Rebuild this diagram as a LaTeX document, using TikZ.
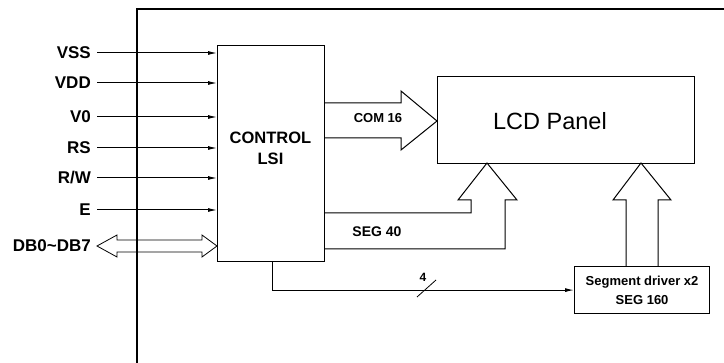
\documentclass[tikz,border=0pt]{standalone}
\usepackage{fontspec}
\setmainfont{Liberation Sans}
\usetikzlibrary{arrows.meta,calc}
\begin{document}
\begin{tikzpicture}[x=1pt,y=-1pt,
  box/.style={draw,line width=1.2pt,inner sep=0pt,anchor=north west},
  pin/.style={line width=1pt,-{Latex[length=9pt,width=4pt]}},
  lbl/.style={font=\bfseries\fontsize{17}{17}\selectfont,anchor=east,inner sep=0pt},
  fat/.style={line width=1pt,line join=miter},
  txt/.style={inner sep=0pt,font=\bfseries\fontsize{13}{13}\selectfont}
  ]
\useasboundingbox (0,0) rectangle (724,363);
% outer frame
\draw[line width=1.2pt] (137,363) -- (137,9) -- (724,9);
% blocks
\node[box,minimum width=107pt,minimum height=216pt] (ctrl) at (217,45) {};
\node[inner sep=0pt,align=center,font=\bfseries\fontsize{16.5}{21}\selectfont] (ctrltxt) at (270.5,148) {CONTROL\\LSI};
\node[box,minimum width=257pt,minimum height=87pt] (lcd) at (437,76) {};
\node[inner sep=0pt,font=\fontsize{23.5}{23.5}\selectfont] (lcdtxt) at (550,121) {LCD Panel};
\node[box,minimum width=135pt,minimum height=47pt,align=center,font=\bfseries\fontsize{13}{19}\selectfont] (seg) at (574,266) {Segment driver x2\\SEG 160};
% inputs
\foreach \t/\y/\n in {VSS/53/vss, VDD/83/vdd, V0/117/vz, RS/148/rs, {R/W}/178/rw, E/210/e}{
  \node[lbl] (\n) at (91,\y) {\t};
  \draw[pin] ([xshift=6pt]\n.east) -- (\n.east -| ctrl.west);
}
\node[lbl] (db) at (91,246) {DB0\textasciitilde DB7};
\draw[line width=0.8pt,line join=miter] (97,246) -- (117,235) -- (117,240) -- (202,240) -- (202,235) -- (217,246) -- (202,257) -- (202,252) -- (117,252) -- (117,257) -- cycle;
% COM arrow
\draw[fat] (324,103) -- (401,103) -- (401,91) -- (lcd.west |- 0,121) -- (401,150) -- (401,138) -- (324,138);
\node[txt] (com) at (378,118) {COM 16};
% SEG 40 arrow
\draw[fat] (324,213) -- (471,213) -- (471,200) -- (458,200) -- (487,163) -- (517,200) -- (505,200) -- (505,249) -- (324,249);
\node[txt,font=\bfseries\fontsize{14}{14}\selectfont] (seg40) at (377,232) {SEG 40};
% segment driver arrow
\draw[fat] (626,266) -- (626,200) -- (613,200) -- (641,163) -- (671,200) -- (658,200) -- (658,266);
% serial line
\draw[pin] ([xshift=1.5pt]ctrl.south) |- (seg.west);
\draw[line width=0.8pt] (417,297) -- (436,280);
\node[txt,font=\bfseries\fontsize{12}{12}\selectfont] (four) at (423,277) {4};
\end{tikzpicture}
\end{document}
